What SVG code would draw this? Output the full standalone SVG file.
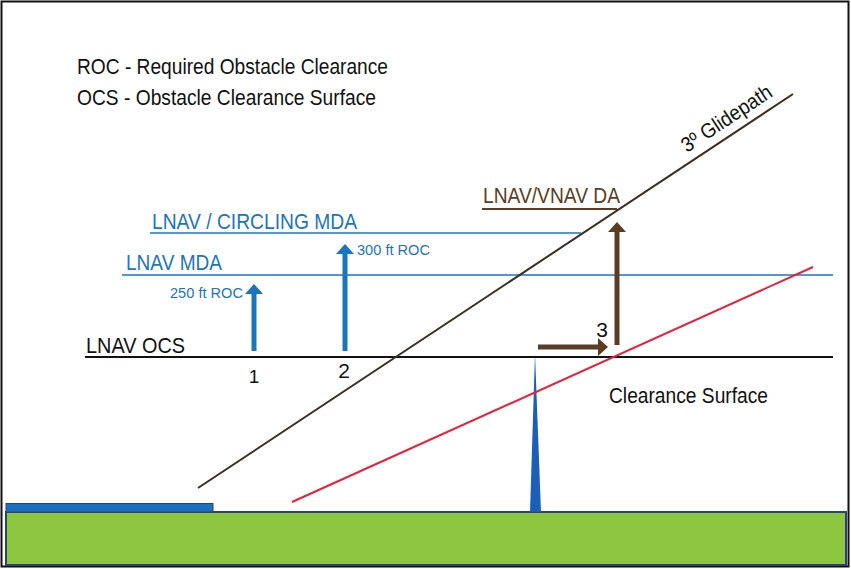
<svg xmlns="http://www.w3.org/2000/svg" width="851" height="569" viewBox="0 0 851 569">
<style>
.t{font-family:"Liberation Sans",Arial,sans-serif}
.blk{fill:#111}
.blu{fill:#1b75bc}
.brn{fill:#5a3d22}
.ln{fill:none}
</style>
<defs>
<marker id="hb" markerWidth="4" markerHeight="4" refX="1" refY="2" orient="auto" markerUnits="strokeWidth"><path d="M0,0.2 L2,2 L0,3.8 Z" fill="#1b75bc"/></marker>
<marker id="hr" markerWidth="4" markerHeight="4" refX="1" refY="2" orient="auto" markerUnits="strokeWidth"><path d="M0,0.2 L2,2 L0,3.8 Z" fill="#5a3d22"/></marker>
</defs>
<rect x="0" y="0" width="851" height="569" fill="#fff"/>
<rect x="1.5" y="1.5" width="847" height="565" fill="none" stroke="#111" stroke-width="2"/>
<g id="ground">
<rect x="6" y="512" width="840" height="53" fill="#8dc63f" stroke="#2e3f7f" stroke-width="2"/>
</g>
<g id="runway">
<rect x="6" y="503.5" width="207" height="8.5" fill="#1b6fc0" stroke="#2e3f7f" stroke-width="1"/>
</g>
<g id="obstacle">
<path d="M535,354 L541,512 L530,512 Z" fill="#1b5fb8"/>
</g>
<g id="connectors">
<line class="ln" x1="85" y1="357" x2="833" y2="357" stroke="#111" stroke-width="2"/>
<line class="ln" x1="122" y1="275" x2="833" y2="275" stroke="#1b75bc" stroke-width="1.5"/>
<line class="ln" x1="150" y1="233" x2="581" y2="233" stroke="#1b75bc" stroke-width="1.5"/>
<line class="ln" x1="482" y1="209" x2="617" y2="209" stroke="#5a3d22" stroke-width="2"/>
<line class="ln" x1="198" y1="488" x2="793" y2="94" stroke="#3a2e22" stroke-width="2"/>
<line class="ln" x1="292" y1="502" x2="813" y2="267" stroke="#e8203a" stroke-width="2"/>
<line class="ln" x1="254" y1="351" x2="254" y2="289" stroke="#1b75bc" stroke-width="5" marker-end="url(#hb)"/>
<line class="ln" x1="345" y1="351" x2="345" y2="249" stroke="#1b75bc" stroke-width="5" marker-end="url(#hb)"/>
<line class="ln" x1="617" y1="345" x2="617" y2="227" stroke="#5a3d22" stroke-width="5" marker-end="url(#hr)"/>
<line class="ln" x1="538" y1="347" x2="603" y2="347" stroke="#5a3d22" stroke-width="5" marker-end="url(#hr)"/>
</g>
<g id="legend">
<text class="t blk" x="77" y="74" font-size="22.5" textLength="311" lengthAdjust="spacingAndGlyphs">ROC - Required Obstacle Clearance</text>
<text class="t blk" x="77" y="105" font-size="22.5" textLength="299" lengthAdjust="spacingAndGlyphs">OCS - Obstacle Clearance Surface</text>
</g>
<g id="labels">
<text class="t blk" font-size="21" transform="translate(687,153) rotate(-33.5)" textLength="104" lengthAdjust="spacingAndGlyphs">3º Glidepath</text>
<text class="t blu" x="152" y="229" font-size="21.5" textLength="205" lengthAdjust="spacingAndGlyphs">LNAV / CIRCLING MDA</text>
<text class="t blu" x="126" y="270" font-size="21.5" textLength="96" lengthAdjust="spacingAndGlyphs">LNAV MDA</text>
<text class="t blu" x="170" y="298" font-size="15.5" textLength="73" lengthAdjust="spacingAndGlyphs">250 ft ROC</text>
<text class="t blu" x="357" y="255" font-size="15.5" textLength="73" lengthAdjust="spacingAndGlyphs">300 ft ROC</text>
<text class="t blk" x="86" y="353" font-size="21.5" textLength="99" lengthAdjust="spacingAndGlyphs">LNAV OCS</text>
<text class="t blk" x="254" y="383" font-size="19" text-anchor="middle">1</text>
<text class="t blk" x="344" y="378" font-size="21" text-anchor="middle">2</text>
<text class="t brn" x="483" y="203" font-size="21.5" textLength="137" lengthAdjust="spacingAndGlyphs">LNAV/VNAV DA</text>
<text class="t blk" x="602" y="337" font-size="21" text-anchor="middle">3</text>
<text class="t blk" x="609" y="403" font-size="21.5" textLength="159" lengthAdjust="spacingAndGlyphs">Clearance Surface</text>
</g>
</svg>
